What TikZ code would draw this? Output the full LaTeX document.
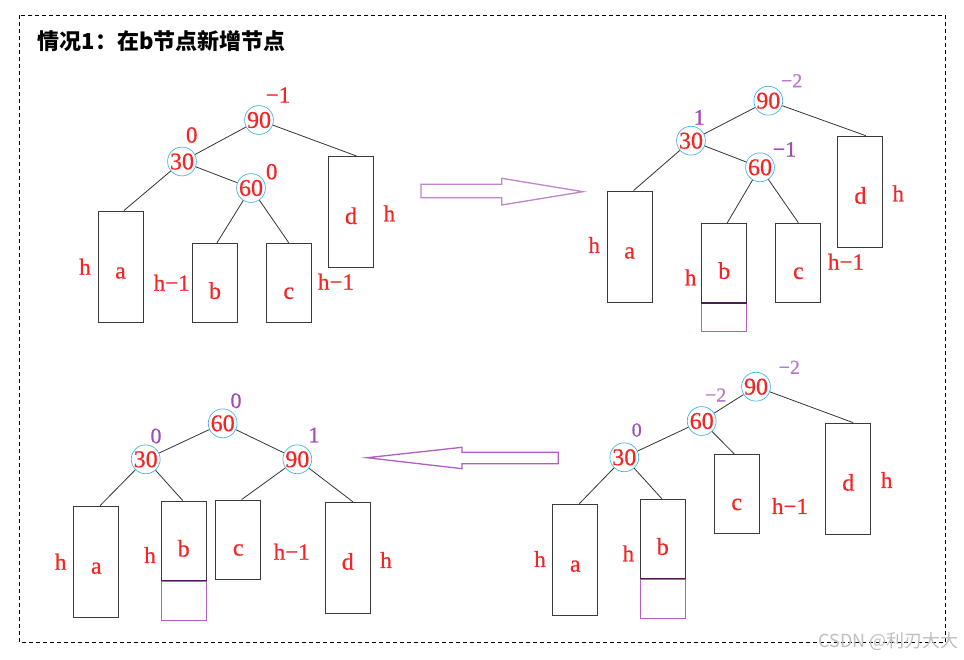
\documentclass[tikz,border=0pt]{standalone}
\usepackage{fontspec}
\setmainfont{Liberation Serif}
\newfontfamily\lbl[FakeBold=0.7]{Liberation Serif}
\newfontfamily\cjk{Noto Sans CJK SC}
\usetikzlibrary{positioning}
\definecolor{keyred}{HTML}{F52525}
\definecolor{keyblue}{HTML}{45B5E8}
\definecolor{bfpurple}{HTML}{A04CB8}
\definecolor{bflight}{HTML}{B878CC}
\definecolor{arrowpurple}{HTML}{C083CC}
\definecolor{newpurple}{HTML}{B060C0}
\definecolor{bottompurple}{HTML}{4A2050}
\definecolor{boxgray}{HTML}{3A3A3A}

\begin{document}
\begin{tikzpicture}[x=1pt, y=-1pt,
  key/.style={circle, draw=keyblue, line width=0.7pt, text=keyred, inner sep=0pt, minimum size=28pt, font=\lbl\fontsize{24}{24}\selectfont},
  sub/.style={draw=boxgray, line width=1pt, minimum width=45pt, inner sep=0pt, text depth=0pt, text=keyred, font=\lbl\fontsize{24}{24}\selectfont},
  tall/.style={sub, minimum height=111pt, text height=24pt},
  short/.style={sub, minimum height=79pt, text height=32pt},
  newsub/.style={draw=newpurple, line width=1pt, minimum width=45pt, inner sep=0pt},
  ht/.style={text=keyred, inner sep=0pt, font=\lbl\fontsize{23}{23}\selectfont},
  bfred/.style={ht},
  bf/.style={text=bfpurple, inner sep=0pt, font=\lbl\fontsize{22}{22}\selectfont},
  bfsmall/.style={text=bflight, inner sep=0pt, font=\lbl\fontsize{20}{20}\selectfont},
  branch/.style={draw=black!80, line width=0.8pt},
  bigarrow/.style={draw=arrowpurple, line width=1.3pt, line join=miter}]
\useasboundingbox (0,0) rectangle (964,659);
\draw[dash pattern=on 4pt off 3pt, line width=0.9pt] (19,15) rectangle (945.5,642);
\node[anchor=west, inner sep=0pt, font=\cjk\bfseries\fontsize{22}{22}\selectfont] (title) at (37.5,41) {情况1：在b节点新增节点};

% case 1: before insert
\node[key] (t1_90) at (259,120) {90};
\node[key] (t1_30) at (182,161.5) {30};
\node[key] (t1_60) at (251,188) {60};
\node[tall] (t1_a) at (120.5,266.5) {a};
\node[short] (t1_b) at (215,282.8) {b};
\node[short] (t1_c) at (288.8,282.8) {c};
\node[tall] (t1_d) at (351,212) {d};
\node[bfred] (t1_bf90) at (278,95) {−1};
\node[bfred] (t1_bf30) at (191.7,135) {0};
\node[bfred] (t1_bf60) at (271.7,171.7) {0};
\node[ht] (t1_ha) at (85,266.7) {h};
\node[ht] (t1_hb) at (171.7,282.7) {h−1};
\node[ht] (t1_hc) at (336,281.7) {h−1};
\node[ht] (t1_hd) at (389.3,213.3) {h};
\path[branch]
(t1_90) edge (t1_30)
	edge ([xshift=5.5pt]t1_d.north)
(t1_30) edge ([xshift=3.5pt]t1_a.north)
	edge (t1_60)
(t1_60) edge ([xshift=2pt]t1_b.north)
	edge (t1_c.north);

% arrow right
\draw[bigarrow] (421,184.3) -- (501.7,184.3) -- (501.7,178.3) -- (583,191.7)
  -- (501.7,205) -- (501.7,197.7) -- (421,197.7) -- cycle;

% case 2: after insert
\node[key] (t2_90) at (768.3,100.7) {90};
\node[key] (t2_30) at (691,140.7) {30};
\node[key] (t2_60) at (760,167.3) {60};
\node[tall] (t2_a) at (629.6,246.5) {a};
\node[short] (t2_b) at (724.3,262.8) {b};
\node[short] (t2_c) at (798.4,262.8) {c};
\node[tall] (t2_d) at (860.4,191.7) {d};
\node[newsub, minimum height=28pt, below=0pt of t2_b] (t2_new) {};
\draw[bottompurple, line width=1.5pt] (t2_b.south west) -- (t2_b.south east);
\node[bfsmall] (t2_bf90) at (791.7,80.7) {−2};
\node[bf] (t2_bf30) at (699.3,117.3) {1};
\node[bf] (t2_bf60) at (784.5,149.3) {−1};
\node[ht] (t2_ha) at (594.2,245) {h};
\node[ht] (t2_hb) at (690.6,277.3) {h};
\node[ht] (t2_hc) at (846,261.7) {h−1};
\node[ht] (t2_hd) at (898.2,193.3) {h};
\path[branch]
(t2_90) edge (t2_30)
	edge ([xshift=5.4pt]t2_d.north)
(t2_30) edge ([xshift=4pt]t2_a.north)
	edge (t2_60)
(t2_60) edge ([xshift=3pt]t2_b.north)
	edge (t2_c.north);

% case 3: right rotate at 60
\node[key] (t3_90) at (756,386.7) {90};
\node[key] (t3_60) at (701.7,421) {60};
\node[key] (t3_30) at (624.3,457.3) {30};
\node[tall] (t3_a) at (575.3,559.7) {a};
\node[short] (t3_b) at (662.8,538.7) {b};
\node[short] (t3_c) at (736.7,494) {c};
\node[tall] (t3_d) at (848.3,478.7) {d};
\node[newsub, minimum height=39pt, below=0pt of t3_b] (t3_new) {};
\draw[bottompurple, line width=1.5pt] (t3_b.south west) -- (t3_b.south east);
\node[bfsmall] (t3_bf90) at (789.3,367.3) {−2};
\node[bfsmall] (t3_bf60) at (715.7,395) {−2};
\node[bfsmall, text=bfpurple] (t3_bf30) at (636.7,430) {0};
\node[ht] (t3_ha) at (540,559) {h};
\node[ht] (t3_hb) at (628.3,553.3) {h};
\node[ht] (t3_hc) at (790,506) {h−1};
\node[ht] (t3_hd) at (886.7,480) {h};
\path[branch]
(t3_90) edge (t3_60)
	edge ([xshift=5pt]t3_d.north)
(t3_60) edge (t3_30)
	edge ([xshift=-2.4pt]t3_c.north)
(t3_30) edge ([xshift=4pt]t3_a.north)
	edge ([xshift=-1pt]t3_b.north);

% arrow left
\draw[bigarrow, draw=newpurple] (558.3,452.3) -- (462,452.3) -- (462,447.3) -- (367,457.7)
  -- (462,468.7) -- (462,463.7) -- (558.3,463.7) -- cycle;

% case 4: left rotate at 90
\node[key] (t4_60) at (222.7,423.3) {60};
\node[key] (t4_30) at (145.7,459.3) {30};
\node[key] (t4_90) at (297.3,459.3) {90};
\node[tall] (t4_a) at (96.3,561.7) {a};
\node[short] (t4_b) at (183.7,540.5) {b};
\node[short] (t4_c) at (238.3,539.5) {c};
\node[tall] (t4_d) at (347.8,557.7) {d};
\node[newsub, minimum height=39pt, below=0pt of t4_b] (t4_new) {};
\draw[bottompurple, line width=1.5pt] (t4_b.south west) -- (t4_b.south east);
\node[bf] (t4_bf60) at (236,400.7) {0};
\node[bf] (t4_bf30) at (156,436) {0};
\node[bf] (t4_bf90) at (314,435) {1};
\node[ht] (t4_ha) at (60.7,561.7) {h};
\node[ht] (t4_hb) at (150,555) {h};
\node[ht] (t4_hc) at (291.7,551.7) {h−1};
\node[ht] (t4_hd) at (386,560) {h};
\path[branch]
(t4_60) edge (t4_30)
	edge (t4_90)
(t4_30) edge ([xshift=3.7pt]t4_a.north)
	edge ([xshift=-1pt]t4_b.north)
(t4_90) edge ([xshift=3.4pt]t4_c.north)
	edge ([xshift=5pt]t4_d.north);

\node[text=black!25, inner sep=0pt, font=\cjk\fontsize{18}{18}\selectfont] (mark) at (888.5,641.7) {CSDN @利刃大大};
\end{tikzpicture}
\end{document}
